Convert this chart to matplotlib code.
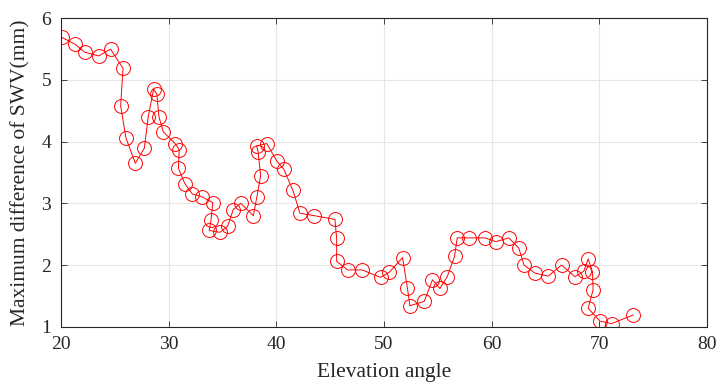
import matplotlib
matplotlib.use("Agg")
import matplotlib.pyplot as plt

elev = [20.09, 21.3, 22.2, 23.5, 24.6, 25.76, 25.54, 26.03, 26.9, 27.73,
        28.1, 28.6, 28.9, 29.1, 29.5, 30.59, 30.98, 30.9, 31.5, 32.2,
        33.06, 34.1, 33.93, 33.77, 34.76, 35.48, 36.0, 36.69, 37.86, 38.2,
        38.54, 38.3, 38.17, 39.1, 40.03, 40.7, 41.54, 42.19, 43.52, 45.44,
        45.6, 45.6, 46.62, 47.98, 49.68, 50.48, 51.72, 52.18, 52.4, 53.73,
        54.5, 55.19, 55.87, 56.55, 56.8, 57.9, 59.37, 60.39, 61.6, 62.53,
        63.0, 64.0, 65.25, 66.49, 67.73, 68.56, 68.96, 69.36, 69.42, 68.96,
        70.05, 71.13, 73.14]
swv = [5.69, 5.58, 5.45, 5.39, 5.50, 5.19, 4.58, 4.06, 3.65, 3.89,
       4.40, 4.85, 4.77, 4.40, 4.16, 3.97, 3.87, 3.57, 3.32, 3.15,
       3.11, 3.01, 2.73, 2.56, 2.53, 2.63, 2.90, 3.00, 2.80, 3.11,
       3.45, 3.84, 3.93, 3.97, 3.69, 3.55, 3.21, 2.84, 2.80, 2.74,
       2.43, 2.06, 1.92, 1.92, 1.80, 1.88, 2.12, 1.62, 1.34, 1.41,
       1.76, 1.62, 1.81, 2.14, 2.44, 2.44, 2.44, 2.38, 2.44, 2.27,
       2.00, 1.87, 1.82, 2.00, 1.81, 1.90, 2.10, 1.89, 1.60, 1.30,
       1.09, 1.05, 1.19]

xticks = [20, 30, 40, 50, 60, 70, 80]
yticks = [1, 2, 3, 4, 5, 6]

plt.rcParams['font.family'] = ['Liberation Serif', 'DejaVu Serif']

fig = plt.figure(figsize=(7.28, 3.92), dpi=100)
ax = fig.add_axes([0.0838, 0.1666, 0.8874, 0.7867])
ax.plot(elev, swv, color='red', linewidth=0.7, marker='o', markersize=10,
        markerfacecolor='none', markeredgecolor='red', markeredgewidth=0.7)
ax.set_xlim(20, 80)
ax.set_ylim(1, 6)
ax.set_xticks(xticks)
ax.set_yticks(yticks)
ax.grid(True, color='#e6e6e6', linewidth=0.8)
ax.set_axisbelow(True)
for s in ax.spines.values():
    s.set_color('#262626')
    s.set_linewidth(0.8)
ax.tick_params(direction='in', top=True, right=True, length=4, width=0.6,
               labelsize=14, colors='#262626', labelcolor='#262626', pad=7)
ax.set_xlabel('Elevation angle', fontsize=15.5, color='#262626', labelpad=7)
ax.set_ylabel('Maximum difference of SWV(mm)', fontsize=15.5, color='#262626', labelpad=8)
fig.savefig('out.png', dpi=100)
